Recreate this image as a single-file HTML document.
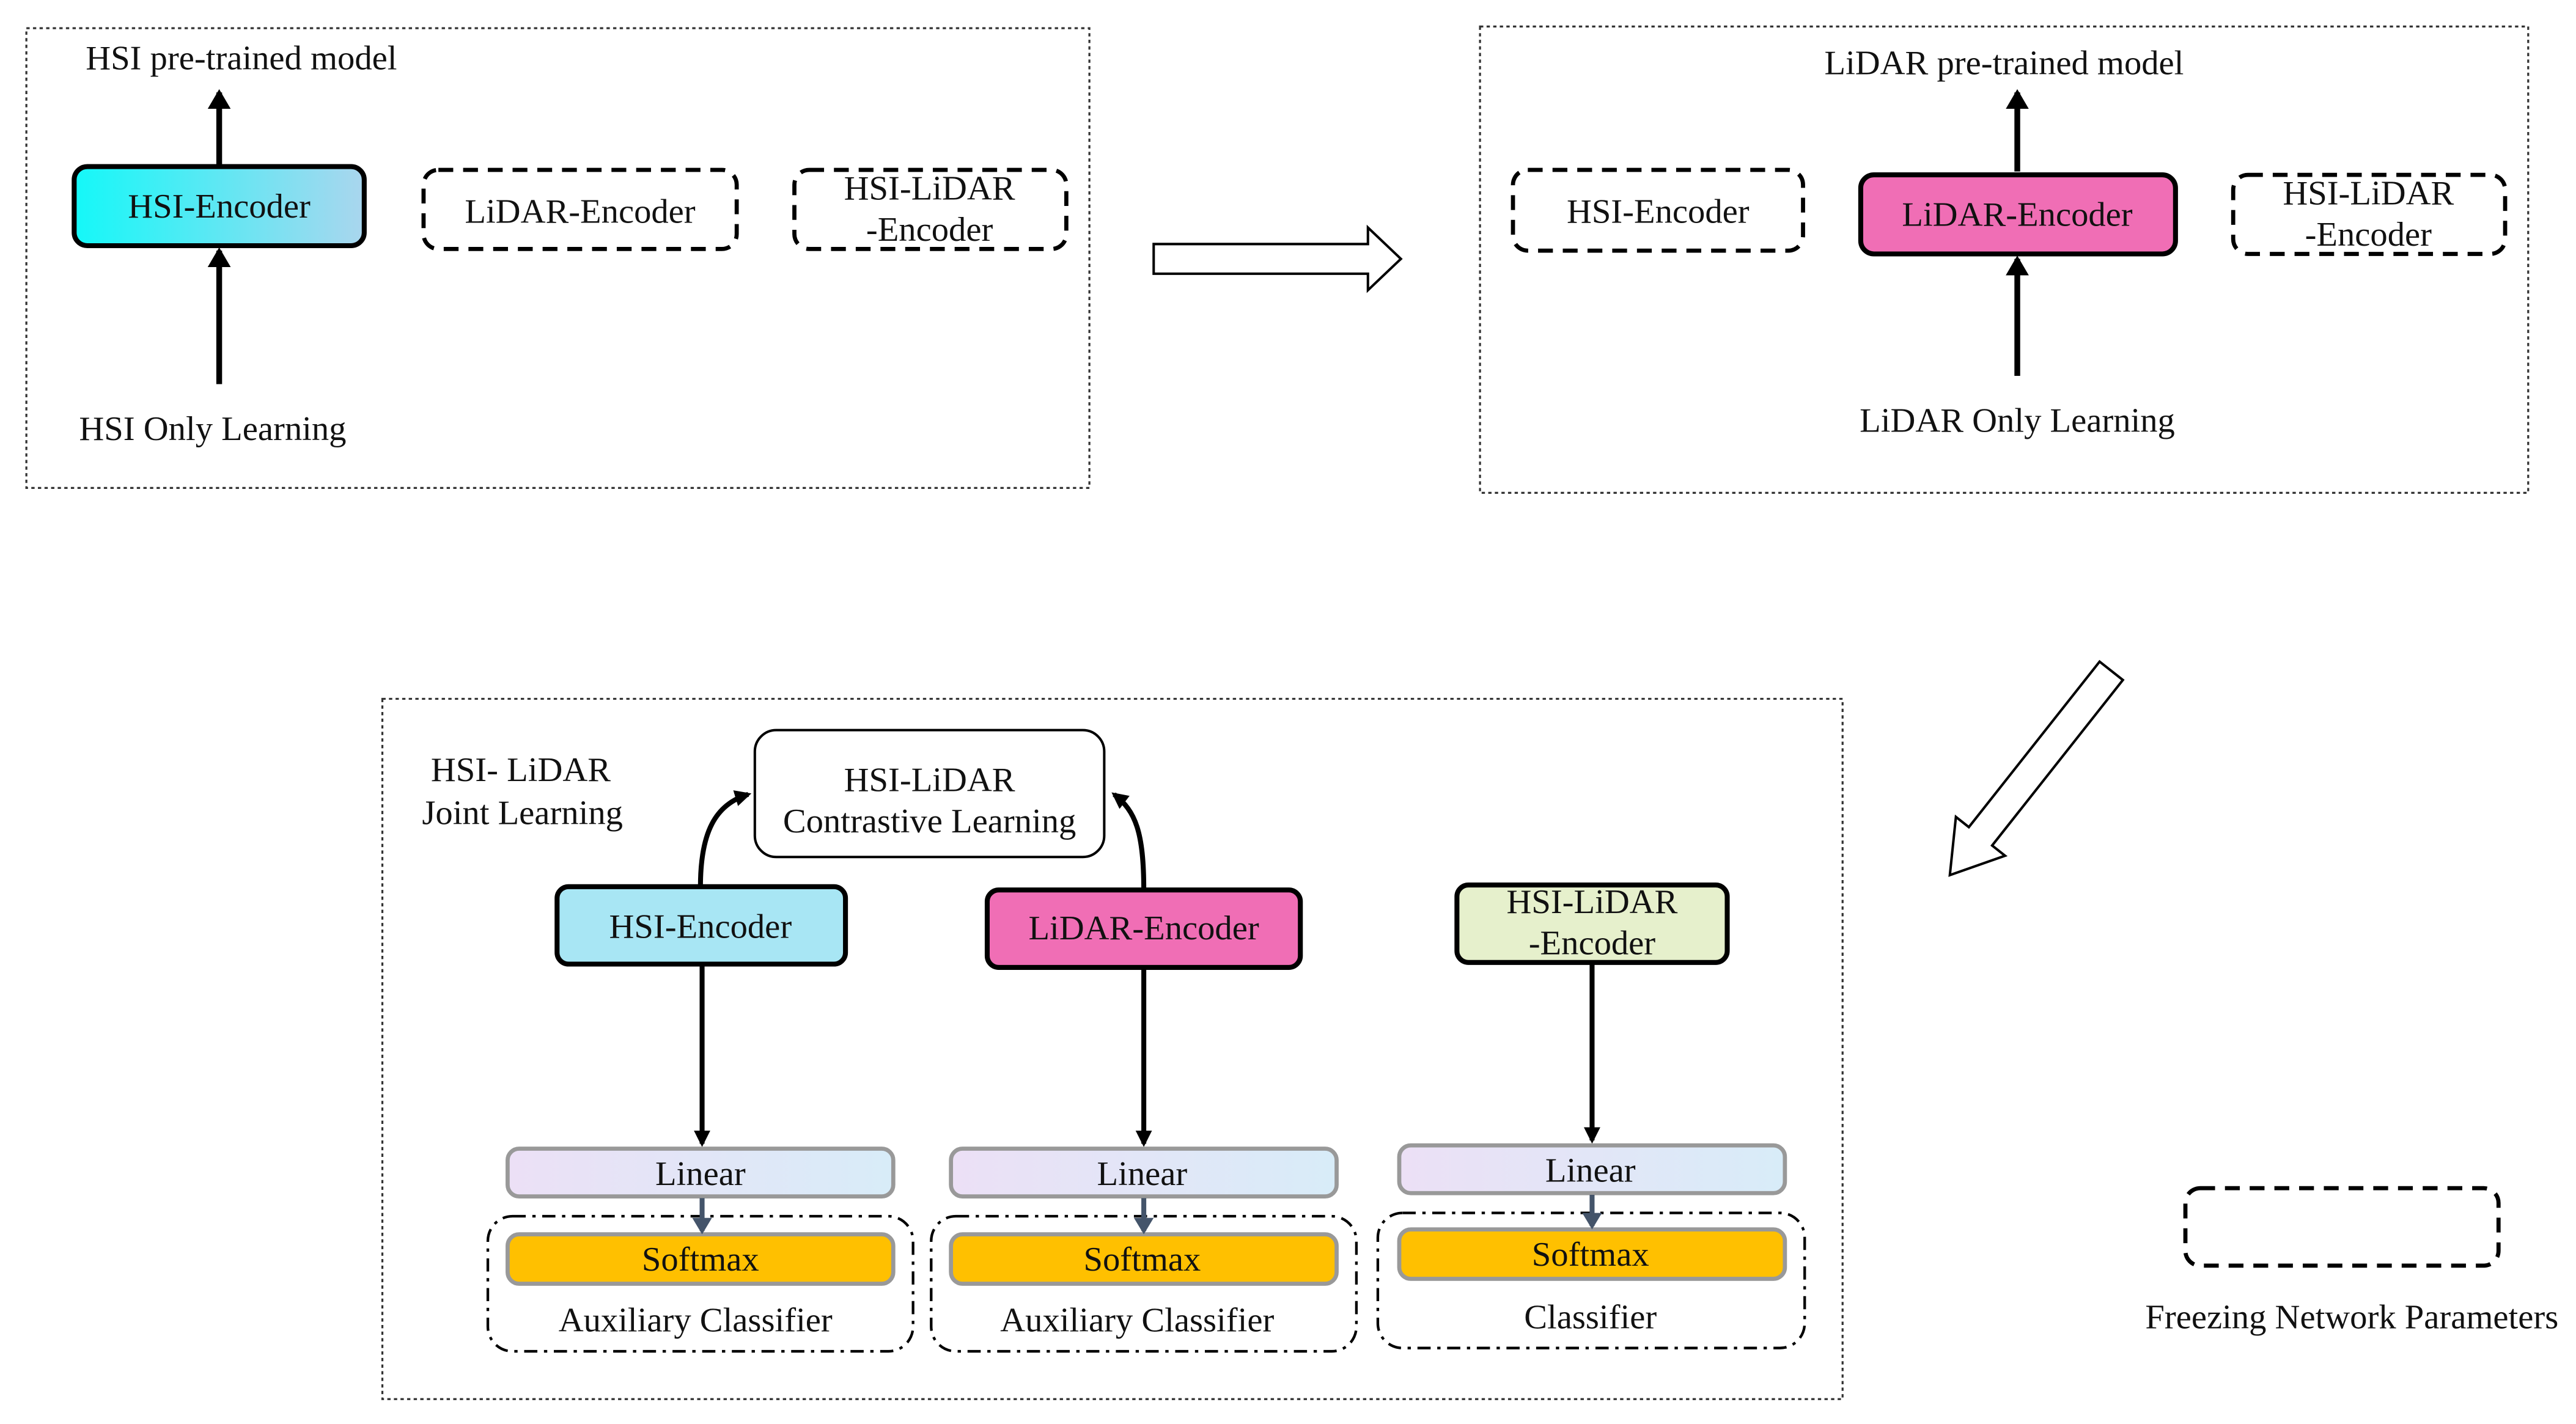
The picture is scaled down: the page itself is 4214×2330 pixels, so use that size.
<!DOCTYPE html>
<html><head><meta charset="utf-8"><style>html,body{margin:0;padding:0;background:#fff}svg{display:block}</style></head><body>
<svg width="4214" height="2330" viewBox="0 0 1563 864" xmlns="http://www.w3.org/2000/svg" font-family="'Liberation Serif', serif" font-size="21" fill="#111">
<defs>
<linearGradient id="g1" x1="0" x2="1"><stop offset="0" stop-color="#14f8f8"/><stop offset="1" stop-color="#aad6ee"/></linearGradient>
<linearGradient id="g2" x1="0" x2="1"><stop offset="0" stop-color="#ece0f6"/><stop offset="1" stop-color="#d8ecf8"/></linearGradient>
<marker id="ah" markerWidth="10" markerHeight="10" refX="8" refY="5" orient="auto" markerUnits="userSpaceOnUse"><path d="M0,0 L10,5 L0,10 z" fill="#000"/></marker>
<marker id="ah2" markerWidth="12" markerHeight="14" refX="10" refY="7" orient="auto" markerUnits="userSpaceOnUse"><path d="M0,0 L12,7 L0,14 z" fill="#000"/></marker>
<marker id="ah3" markerWidth="10" markerHeight="12" refX="8" refY="6" orient="auto" markerUnits="userSpaceOnUse"><path d="M0,0 L10,6 L0,12 z" fill="#44546a"/></marker>
</defs>
<g fill="none" stroke="#333" stroke-width="1.2" stroke-dasharray="2,2">
<rect x="16" y="17" width="645" height="279"/>
<rect x="898" y="16" width="636" height="283"/>
<rect x="232" y="424" width="886" height="425"/>
</g>
<text x="52" y="42">HSI  pre-trained model</text>
<line x1="133" y1="100" x2="133" y2="56" stroke="#000" stroke-width="3.5" marker-end="url(#ah2)"/>
<line x1="133" y1="233" x2="133" y2="152" stroke="#000" stroke-width="3.5" marker-end="url(#ah2)"/>
<rect x="45" y="101" width="176" height="48" rx="8" fill="url(#g1)" stroke="#000" stroke-width="3"/>
<text x="133" y="132" text-anchor="middle">HSI-Encoder</text>
<rect x="257" y="103" width="190" height="48" rx="9" fill="none" stroke="#000" stroke-width="2.5" stroke-dasharray="9,6"/>
<text x="352" y="135" text-anchor="middle">LiDAR-Encoder</text>
<rect x="482" y="103" width="165" height="48" rx="9" fill="none" stroke="#000" stroke-width="2.5" stroke-dasharray="9,6"/>
<text x="564" y="121" text-anchor="middle">HSI-LiDAR</text>
<text x="564" y="146" text-anchor="middle">-Encoder</text>
<text x="48" y="267">HSI  Only Learning</text>
<path d="M700,148 L830,148 L830,138 L850,157 L830,176 L830,166 L700,166 Z" fill="#fff" stroke="#000" stroke-width="1.5"/>
<text x="1216" y="45" text-anchor="middle">LiDAR  pre-trained model</text>
<line x1="1224" y1="104" x2="1224" y2="56" stroke="#000" stroke-width="3.5" marker-end="url(#ah2)"/>
<line x1="1224" y1="228" x2="1224" y2="157" stroke="#000" stroke-width="3.5" marker-end="url(#ah2)"/>
<rect x="918" y="103" width="176" height="49" rx="9" fill="none" stroke="#000" stroke-width="2.5" stroke-dasharray="9,6"/>
<text x="1006" y="135" text-anchor="middle">HSI-Encoder</text>
<rect x="1129" y="106" width="191" height="48" rx="8" fill="#f06eb5" stroke="#000" stroke-width="3"/>
<text x="1224" y="137" text-anchor="middle">LiDAR-Encoder</text>
<rect x="1355" y="106" width="165" height="48" rx="9" fill="none" stroke="#000" stroke-width="2.5" stroke-dasharray="9,6"/>
<text x="1437" y="124" text-anchor="middle">HSI-LiDAR</text>
<text x="1437" y="149" text-anchor="middle">-Encoder</text>
<text x="1224" y="262" text-anchor="middle">LiDAR  Only Learning</text>
<g transform="translate(1281,407) rotate(128.3)">
<path d="M0,-9 L128,-9 L128,-19 L158,0 L128,19 L128,9 L0,9 Z" fill="#fff" stroke="#000" stroke-width="1.5"/>
</g>
<text x="316" y="474" text-anchor="middle">HSI- LiDAR</text>
<text x="317" y="500" text-anchor="middle">Joint Learning</text>
<rect x="458" y="443" width="212" height="77" rx="13" fill="#fff" stroke="#000" stroke-width="1.5"/>
<text x="564" y="480" text-anchor="middle">HSI-LiDAR</text>
<text x="564" y="505" text-anchor="middle">Contrastive Learning</text>
<path d="M425,538 C425,505 434,488 454,482" fill="none" stroke="#000" stroke-width="3" marker-end="url(#ah)"/>
<path d="M694,540 C694,505 689,492 676,482" fill="none" stroke="#000" stroke-width="3" marker-end="url(#ah)"/>
<rect x="338" y="538" width="175" height="47" rx="7" fill="#a8e6f4" stroke="#000" stroke-width="3"/>
<text x="425" y="569" text-anchor="middle">HSI-Encoder</text>
<rect x="599" y="540" width="190" height="47" rx="7" fill="#f06eb5" stroke="#000" stroke-width="3"/>
<text x="694" y="570" text-anchor="middle">LiDAR-Encoder</text>
<rect x="884" y="537" width="164" height="47" rx="7" fill="#e6f0cc" stroke="#000" stroke-width="3"/>
<text x="966" y="554" text-anchor="middle">HSI-LiDAR</text>
<text x="966" y="579" text-anchor="middle">-Encoder</text>
<g stroke="#000" stroke-width="3">
<line x1="426" y1="585" x2="426" y2="694" marker-end="url(#ah)"/>
<line x1="694" y1="587" x2="694" y2="694" marker-end="url(#ah)"/>
<line x1="966" y1="584" x2="966" y2="692" marker-end="url(#ah)"/>
</g>
<g fill="none" stroke="#000" stroke-width="1.6" stroke-dasharray="8,4,2,4">
<rect x="296" y="738" width="258" height="82" rx="15"/>
<rect x="565" y="738" width="258" height="82" rx="15"/>
<rect x="836" y="736" width="259" height="82" rx="15"/>
</g>
<g stroke="#999" stroke-width="2.5">
<rect x="308" y="697" width="234" height="29" rx="7" fill="url(#g2)"/>
<rect x="577" y="697" width="234" height="29" rx="7" fill="url(#g2)"/>
<rect x="849" y="695" width="234" height="29" rx="7" fill="url(#g2)"/>
<rect x="308" y="749" width="234" height="30" rx="7" fill="#ffc000"/>
<rect x="577" y="749" width="234" height="30" rx="7" fill="#ffc000"/>
<rect x="849" y="746" width="234" height="30" rx="7" fill="#ffc000"/>
</g>
<g stroke="#44546a" stroke-width="3">
<line x1="426" y1="727" x2="426" y2="747" marker-end="url(#ah3)"/>
<line x1="694" y1="727" x2="694" y2="747" marker-end="url(#ah3)"/>
<line x1="966" y1="725" x2="966" y2="744" marker-end="url(#ah3)"/>
</g>
<text x="425" y="719" text-anchor="middle">Linear</text>
<text x="693" y="719" text-anchor="middle">Linear</text>
<text x="965" y="717" text-anchor="middle">Linear</text>
<text x="425" y="771" text-anchor="middle">Softmax</text>
<text x="693" y="771" text-anchor="middle">Softmax</text>
<text x="965" y="768" text-anchor="middle">Softmax</text>
<text x="422" y="808" text-anchor="middle">Auxiliary Classifier</text>
<text x="690" y="808" text-anchor="middle">Auxiliary Classifier</text>
<text x="965" y="806" text-anchor="middle">Classifier</text>
<rect x="1326" y="721" width="190" height="47" rx="9" fill="none" stroke="#000" stroke-width="2.5" stroke-dasharray="9,6"/>
<text x="1427" y="806" text-anchor="middle">Freezing Network Parameters</text>
</svg>
</body></html>
